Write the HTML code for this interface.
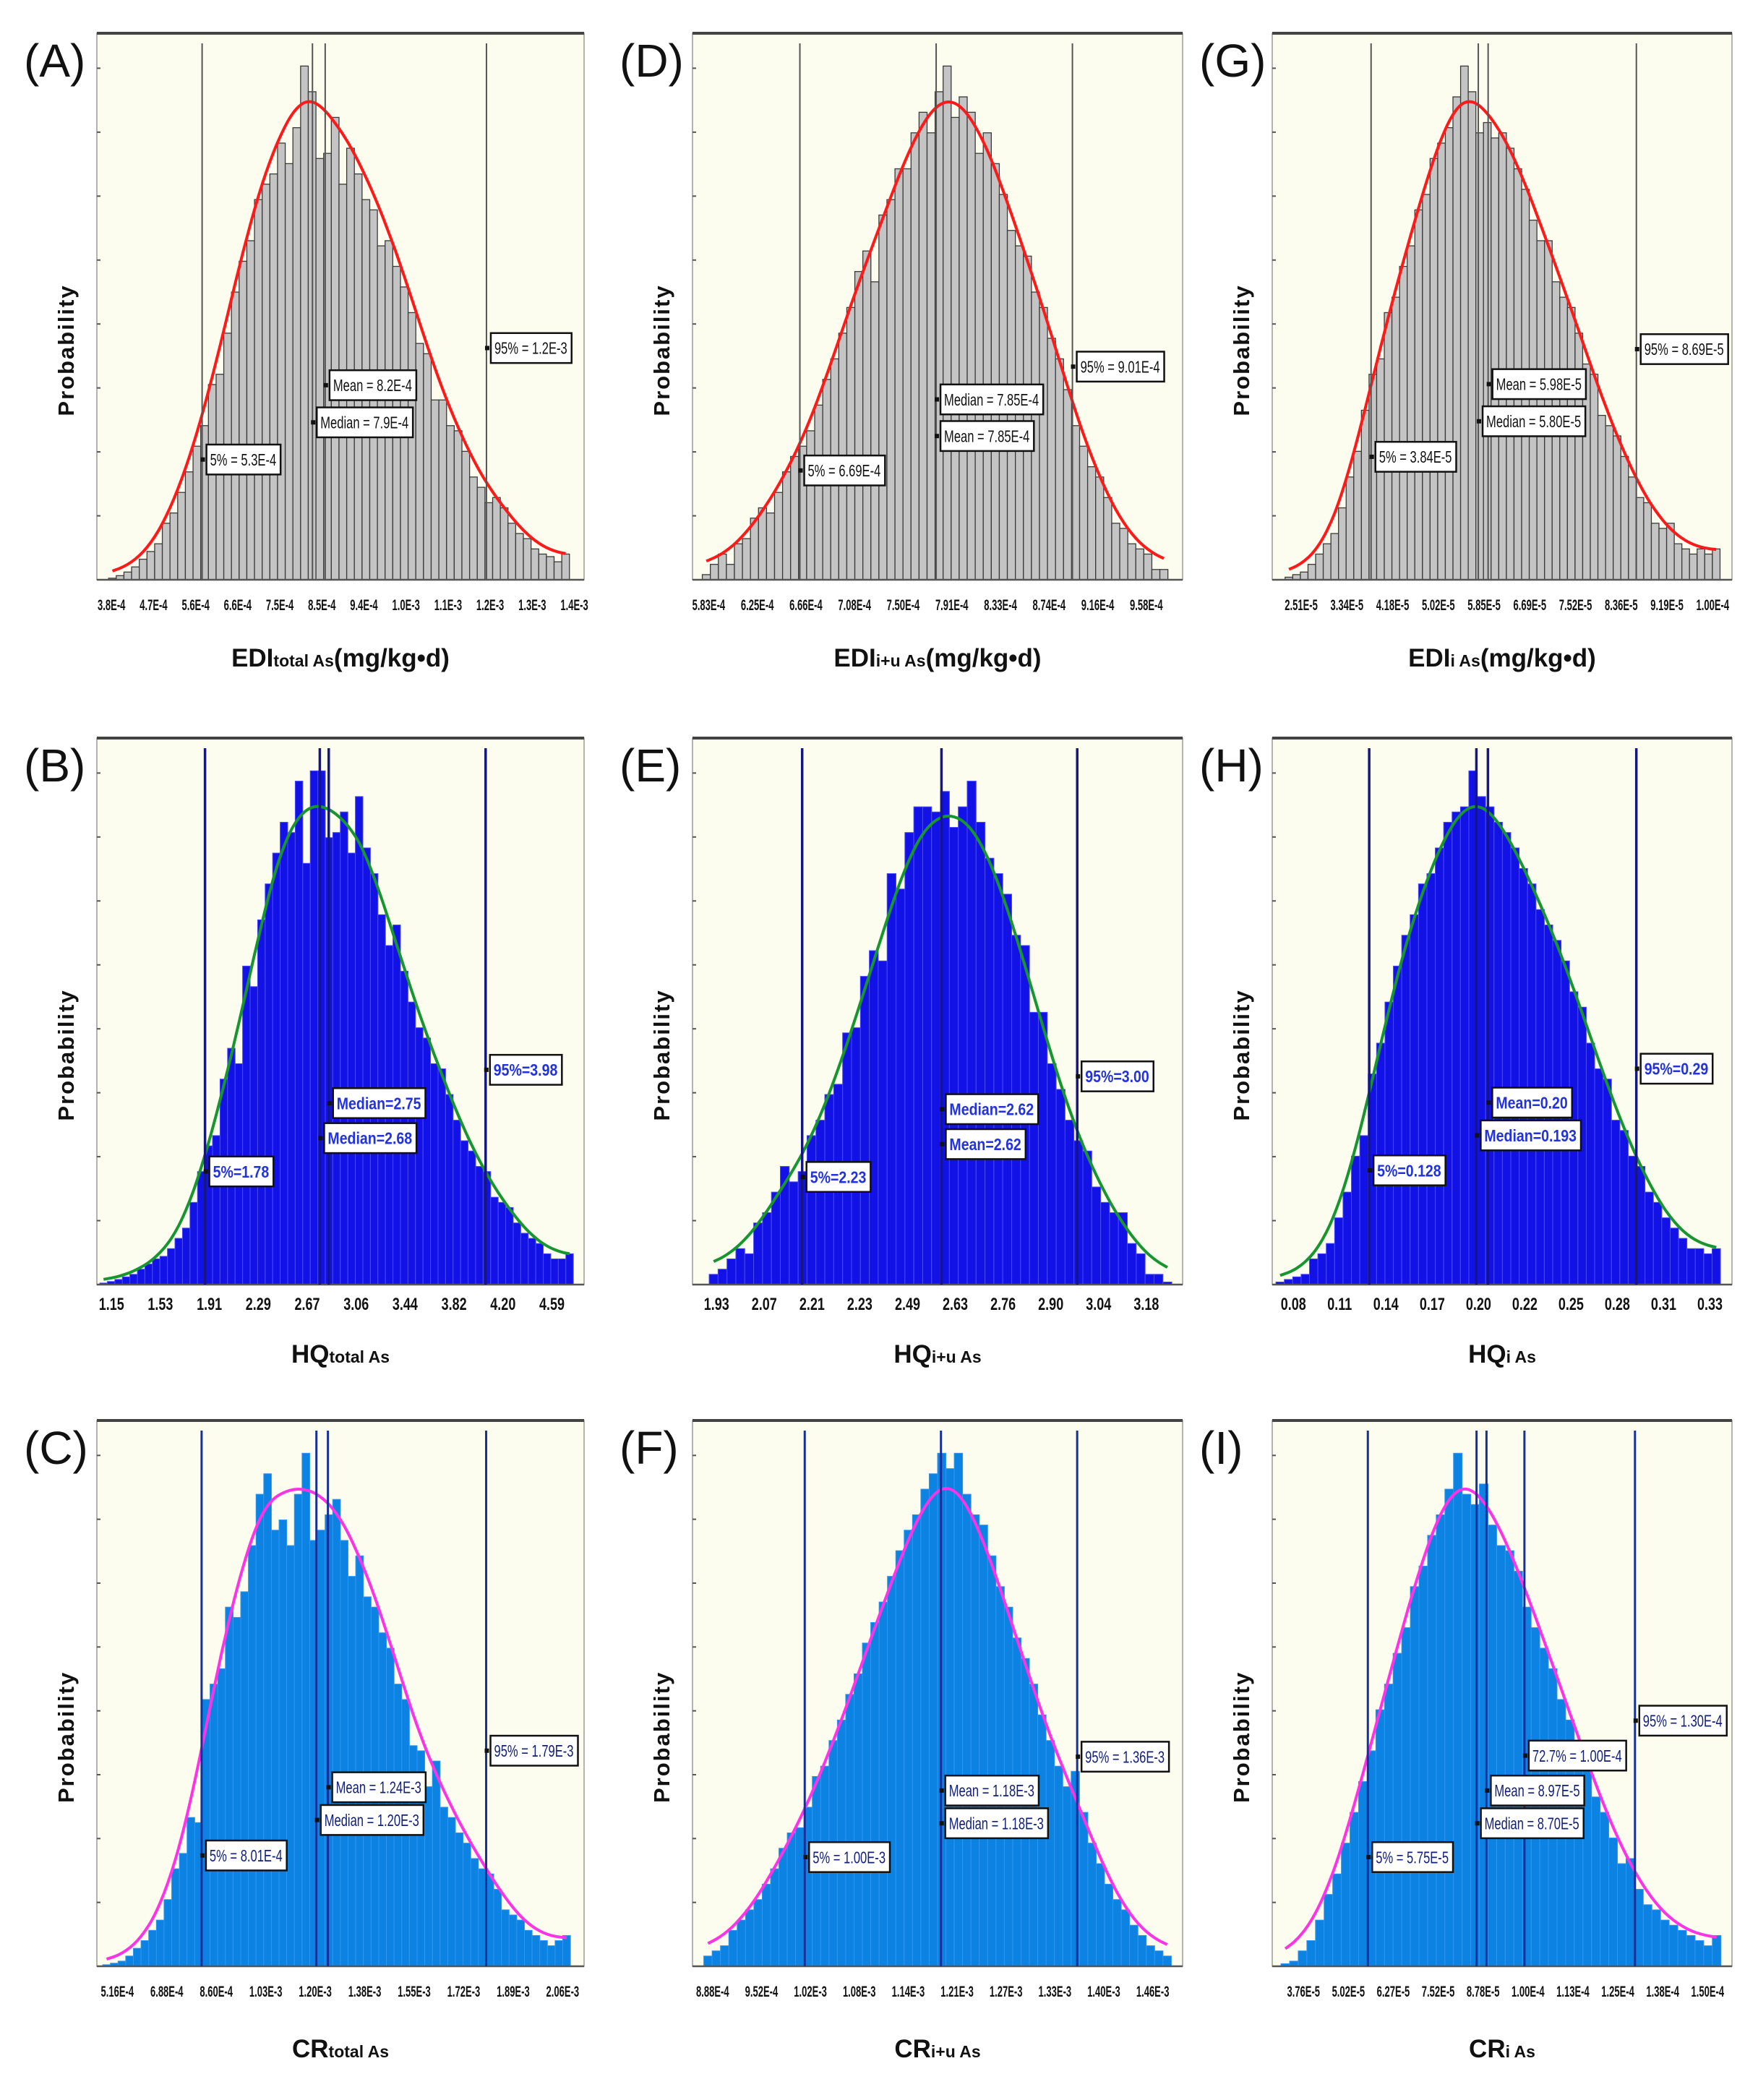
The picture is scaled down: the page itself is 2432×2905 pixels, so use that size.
<!DOCTYPE html>
<html><head><meta charset="utf-8"><style>
html,body{margin:0;padding:0;background:#fff;}
svg{display:block;font-family:"Liberation Sans",sans-serif;}
</style></head><body>
<svg id="fig" width="2432" height="2905" viewBox="0 0 2432 2905" xmlns="http://www.w3.org/2000/svg"></svg>
<script>
// ---------- data ----------
const barsA=[0.003,0.008,0.015,0.025,0.04,0.055,0.07,0.11,0.13,0.17,0.21,0.26,0.30,0.38,0.40,0.48,0.56,0.62,0.66,0.74,0.77,0.79,0.85,0.81,0.88,1.0,0.95,0.82,0.83,0.90,0.77,0.84,0.79,0.74,0.72,0.65,0.66,0.61,0.57,0.52,0.46,0.44,0.35,0.35,0.30,0.29,0.25,0.20,0.18,0.15,0.16,0.14,0.11,0.09,0.08,0.06,0.05,0.045,0.035,0.05];
const barsD=[0.01,0.03,0.05,0.03,0.07,0.08,0.12,0.14,0.13,0.17,0.21,0.24,0.26,0.29,0.34,0.39,0.43,0.48,0.53,0.60,0.64,0.58,0.71,0.74,0.80,0.80,0.87,0.91,0.87,0.95,1.0,0.90,0.94,0.91,0.83,0.87,0.81,0.75,0.68,0.65,0.63,0.56,0.53,0.47,0.43,0.37,0.30,0.26,0.22,0.20,0.16,0.11,0.10,0.07,0.06,0.05,0.02,0.02];
const barsG=[0.005,0.01,0.015,0.03,0.05,0.07,0.09,0.14,0.20,0.25,0.33,0.40,0.43,0.52,0.55,0.61,0.65,0.72,0.75,0.82,0.85,0.88,0.94,1.0,0.95,0.87,0.89,0.86,0.87,0.84,0.80,0.76,0.70,0.66,0.66,0.58,0.55,0.53,0.48,0.42,0.40,0.32,0.30,0.28,0.24,0.20,0.16,0.15,0.11,0.10,0.11,0.07,0.06,0.05,0.06,0.05,0.06];
const barsB=[0.003,0.006,0.01,0.015,0.02,0.03,0.04,0.05,0.055,0.07,0.09,0.11,0.16,0.22,0.27,0.29,0.40,0.46,0.43,0.62,0.58,0.71,0.78,0.84,0.90,0.88,0.98,0.82,1.0,1.0,0.87,0.88,0.92,0.84,0.95,0.85,0.80,0.72,0.66,0.70,0.61,0.55,0.50,0.48,0.43,0.42,0.37,0.32,0.28,0.26,0.23,0.22,0.17,0.16,0.15,0.12,0.10,0.09,0.08,0.06,0.05,0.05,0.06];
const barsE=[0.02,0.03,0.05,0.07,0.06,0.12,0.14,0.18,0.23,0.20,0.22,0.29,0.32,0.37,0.39,0.49,0.50,0.60,0.65,0.63,0.80,0.77,0.88,0.93,0.93,0.92,0.96,0.89,0.93,0.98,0.90,0.83,0.80,0.76,0.68,0.66,0.53,0.53,0.43,0.38,0.32,0.28,0.26,0.19,0.16,0.14,0.14,0.08,0.06,0.02,0.02,0.005];
const barsH=[0.005,0.01,0.015,0.02,0.05,0.06,0.08,0.13,0.18,0.25,0.29,0.41,0.47,0.55,0.62,0.68,0.72,0.78,0.80,0.85,0.90,0.92,0.93,1.0,0.95,0.93,0.90,0.88,0.85,0.81,0.78,0.73,0.70,0.67,0.63,0.57,0.54,0.47,0.42,0.40,0.32,0.30,0.25,0.23,0.18,0.16,0.13,0.11,0.09,0.07,0.07,0.06,0.07];
const barsC=[0.003,0.006,0.01,0.02,0.035,0.05,0.07,0.09,0.13,0.19,0.22,0.29,0.28,0.52,0.55,0.58,0.70,0.68,0.73,0.82,0.92,0.96,0.85,0.87,0.82,0.92,1.0,0.83,0.85,0.88,0.91,0.83,0.76,0.80,0.72,0.70,0.65,0.62,0.55,0.52,0.43,0.42,0.35,0.40,0.31,0.29,0.26,0.24,0.21,0.19,0.18,0.15,0.11,0.10,0.09,0.07,0.06,0.05,0.04,0.05,0.06];
const barsF=[0.02,0.03,0.04,0.07,0.09,0.11,0.13,0.16,0.19,0.23,0.26,0.27,0.31,0.37,0.39,0.44,0.48,0.53,0.57,0.63,0.67,0.71,0.76,0.81,0.85,0.88,0.93,0.96,1.0,0.97,1.0,0.92,0.88,0.86,0.80,0.74,0.70,0.64,0.60,0.55,0.49,0.44,0.39,0.35,0.38,0.30,0.24,0.20,0.16,0.13,0.11,0.08,0.06,0.04,0.03,0.02];
const barsI=[0.005,0.01,0.03,0.05,0.09,0.14,0.18,0.24,0.30,0.36,0.42,0.50,0.55,0.61,0.66,0.74,0.78,0.84,0.88,0.93,1.0,0.92,0.90,0.94,0.86,0.82,0.81,0.77,0.70,0.66,0.62,0.58,0.52,0.48,0.43,0.40,0.33,0.30,0.25,0.20,0.21,0.15,0.12,0.11,0.09,0.08,0.07,0.06,0.05,0.04,0.06];

const ticksA=["3.8E-4","4.7E-4","5.6E-4","6.6E-4","7.5E-4","8.5E-4","9.4E-4","1.0E-3","1.1E-3","1.2E-3","1.3E-3","1.4E-3"];
const ticksD=["5.83E-4","6.25E-4","6.66E-4","7.08E-4","7.50E-4","7.91E-4","8.33E-4","8.74E-4","9.16E-4","9.58E-4"];
const ticksG=["2.51E-5","3.34E-5","4.18E-5","5.02E-5","5.85E-5","6.69E-5","7.52E-5","8.36E-5","9.19E-5","1.00E-4"];
const ticksB=["1.15","1.53","1.91","2.29","2.67","3.06","3.44","3.82","4.20","4.59"];
const ticksE=["1.93","2.07","2.21","2.23","2.49","2.63","2.76","2.90","3.04","3.18"];
const ticksH=["0.08","0.11","0.14","0.17","0.20","0.22","0.25","0.28","0.31","0.33"];
const ticksC=["5.16E-4","6.88E-4","8.60E-4","1.03E-3","1.20E-3","1.38E-3","1.55E-3","1.72E-3","1.89E-3","2.06E-3"];
const ticksF=["8.88E-4","9.52E-4","1.02E-3","1.08E-3","1.14E-3","1.21E-3","1.27E-3","1.33E-3","1.40E-3","1.46E-3"];
const ticksI=["3.76E-5","5.02E-5","6.27E-5","7.52E-5","8.78E-5","1.00E-4","1.13E-4","1.25E-4","1.38E-4","1.50E-4"];

const linesA=[5.3e-4,7.9e-4,8.2e-4,1.2e-3];
const linesD=[6.69e-4,7.85e-4,9.01e-4];
const linesG=[3.84e-5,5.80e-5,5.98e-5,8.69e-5];
const linesB=[1.78,2.68,2.75,3.98];
const linesE=[2.23,2.62,3.00];
const linesH=[0.128,0.193,0.20,0.29];
const linesC=[8.01e-4,1.20e-3,1.24e-3,1.79e-3];
const linesF=[1.00e-3,1.18e-3,1.36e-3];
const linesI=[5.75e-5,8.70e-5,8.97e-5,1.00e-4,1.30e-4];

const notesA=[["5% = 5.3E-4",5.3e-4,0.22],["Mean = 8.2E-4",8.2e-4,0.356],["Median = 7.9E-4",7.9e-4,0.288],["95% = 1.2E-3",1.2e-3,0.424]];
const notesD=[["5% = 6.69E-4",6.69e-4,0.2],["Median = 7.85E-4",7.85e-4,0.33],["Mean = 7.85E-4",7.85e-4,0.263],["95% = 9.01E-4",9.01e-4,0.39]];
const notesG=[["5% = 3.84E-5",3.84e-5,0.225],["Mean = 5.98E-5",5.98e-5,0.358],["Median = 5.80E-5",5.80e-5,0.29],["95% = 8.69E-5",8.69e-5,0.422]];
const notesB=[["5%=1.78",1.78,0.207],["Median=2.75",2.75,0.332],["Median=2.68",2.68,0.268],["95%=3.98",3.98,0.393]];
const notesE=[["5%=2.23",2.23,0.197],["Median=2.62",2.62,0.321],["Mean=2.62",2.62,0.257],["95%=3.00",3.00,0.381]];
const notesH=[["5%=0.128",0.128,0.209],["Mean=0.20",0.20,0.333],["Median=0.193",0.193,0.273],["95%=0.29",0.29,0.395]];
const notesC=[["5% = 8.01E-4",8.01e-4,0.203],["Mean = 1.24E-3",1.24e-3,0.328],["Median = 1.20E-3",1.20e-3,0.268],["95% = 1.79E-3",1.79e-3,0.395]];
const notesF=[["5% = 1.00E-3",1.00e-3,0.2],["Mean = 1.18E-3",1.18e-3,0.322],["Median = 1.18E-3",1.18e-3,0.262],["95% = 1.36E-3",1.36e-3,0.384]];
const notesI=[["5% = 5.75E-5",5.75e-5,0.2],["Median = 8.70E-5",8.70e-5,0.262],["Mean = 8.97E-5",8.97e-5,0.322],["72.7% = 1.00E-4",1.00e-4,0.386],["95% = 1.30E-4",1.30e-4,0.45]];

// ---------- layout ----------
const NS="http://www.w3.org/2000/svg";
const svg=document.getElementById('fig');
const cols=[[134,674],[958,678],[1760,636]];
const rows=[[46,756],[1021,756],[1965,755]];
const styles=[
 {bar:"#c4c4c4",stroke:"#3a3a3a",curve:"#ff1a1a",vline:"#555555",vw:2,nt:"#111",nb:false,ns:23,sub:"(mg/kg•d)"},
 {bar:"#1212e6",stroke:"#4a4aff",curve:"#17952e",vline:"#161680",vw:3.5,nt:"#2233dd",nb:true,ns:23,sub:""},
 {bar:"#0c82e2",stroke:"#2e96f2",curve:"#ff33e6",vline:"#16309a",vw:3,nt:"#12207a",nb:false,ns:23,sub:""}
];
const panels=[
 {id:"A",c:0,r:0,bars:barsA,ticks:ticksA,lines:linesA,notes:notesA,b:[.024,.97],t:[.03,.98],d:[2.82e-4,1.43e-3],pre:"EDI",sub:"total As"},
 {id:"D",c:1,r:0,bars:barsD,ticks:ticksD,lines:linesD,notes:notesD,b:[.02,.97],t:[.033,.926],d:[5.776e-4,9.948e-4],pre:"EDI",sub:"i+u As"},
 {id:"G",c:2,r:0,bars:barsG,ticks:ticksG,lines:linesG,notes:notesG,b:[.028,.974],t:[.063,.958],d:[2.033e-5,1.0438e-4],pre:"EDI",sub:"i As"},
 {id:"B",c:0,r:1,bars:barsB,ticks:ticksB,lines:linesB,notes:notesB,b:[.006,.978],t:[.03,.934],d:[0.932,4.752],pre:"HQ",sub:"total As"},
 {id:"E",c:1,r:1,bars:barsE,ticks:ticksE,lines:linesE,notes:notesE,b:[.034,.978],t:[.049,.926],d:[1.923,3.295],pre:"HQ",sub:"i+u As"},
 {id:"H",c:2,r:1,bars:barsH,ticks:ticksH,lines:linesH,notes:notesH,b:[.008,.975],t:[.046,.952],d:[0.0692,0.348],pre:"HQ",sub:"i As"},
 {id:"C",c:0,r:2,bars:barsC,ticks:ticksC,lines:linesC,notes:notesC,b:[.012,.972],t:[.042,.956],d:[4.369e-4,2.1304e-3],pre:"CR",sub:"total As"},
 {id:"F",c:1,r:2,bars:barsF,ticks:ticksF,lines:linesF,notes:notesF,b:[.023,.977],t:[.041,.939],d:[8.517e-4,1.4993e-3],pre:"CR",sub:"i+u As"},
 {id:"I",c:2,r:2,bars:barsI,ticks:ticksI,lines:linesI,notes:notesI,b:[.019,.976],t:[.068,.947],d:[3.155e-5,1.5633e-4],pre:"CR",sub:"i As"}
];
function el(tag,attrs,parent){const e=document.createElementNS(NS,tag);for(const k in attrs)e.setAttribute(k,attrs[k]);(parent||svg).appendChild(e);return e;}

panels.forEach(p=>{
 const st=styles[p.r];
 const X=cols[p.c][0],W=cols[p.c][1],Y=rows[p.r][0],H=rows[p.r][1],B=Y+H;
 const g=el('g',{});
 
 
 const xv=v=>X+W*(v-p.d[0])/(p.d[1]-p.d[0]);
 const yv=v=>B-v*0.94*H;
 const bg=el('rect',{x:X,y:Y,width:W,height:H,fill:"#fdfdef",stroke:"#9a9a9a","stroke-width":1.5},g);
 
 
 el('line',{x1:X,y1:Y,x2:X+W,y2:Y,stroke:"#444","stroke-width":4},g);
 for(let i=1;i<=8;i++){el('line',{x1:X,x2:X+5,y1:B-i*H*0.117,y2:B-i*H*0.117,stroke:"#555","stroke-width":2},g);}
 const n=p.bars.length,bx0=X+W*p.b[0],bw=W*(p.b[1]-p.b[0])/n;
 p.bars.forEach((v,i)=>{
   const r=el('rect',{x:bx0+i*bw,y:yv(v),width:bw,height:B-yv(v),fill:st.bar,stroke:st.stroke,"stroke-width":p.r==0?1.3:1},g);
   
   
 });
 el('line',{x1:X,y1:B,x2:X+W,y2:B,stroke:"#555","stroke-width":2.5},g);
 // fitted curve: wide gaussian smoothing of bars
 const R=6,sig=2.6;
 const sm=p.bars.map((v,i)=>{let s=0,c=0;for(let k=-R;k<=R;k++){const j=i+k;if(j>=0&&j<n){const w=Math.exp(-k*k/(2*sig*sig));s+=p.bars[j]*w;c+=w;}}return s/c;});
 const mx=Math.max(...sm),mb=Math.max(...p.bars);
 const pts=sm.map((v,i)=>[bx0+(i+0.5)*bw,yv(v*(0.93*mb/mx))]);
 let d="M"+pts[0][0]+","+pts[0][1];
 for(let i=0;i<pts.length-1;i++){const p0=pts[Math.max(0,i-1)],p1=pts[i],p2=pts[i+1],p3=pts[Math.min(pts.length-1,i+2)];
  d+=" C"+(p1[0]+(p2[0]-p0[0])/6)+","+(p1[1]+(p2[1]-p0[1])/6)+" "+(p2[0]-(p3[0]-p1[0])/6)+","+(p2[1]-(p3[1]-p1[1])/6)+" "+p2[0]+","+p2[1];}
 const cv=el('path',{d:d,fill:"none",stroke:st.curve,"stroke-width":4},g);
 
 
 p.lines.forEach(v=>{
  const l=el('line',{x1:xv(v),x2:xv(v),y1:Y+14,y2:B,stroke:st.vline,"stroke-width":st.vw},g);
  
  
 });
 p.notes.forEach(a=>{
  const lx=xv(a[1]),cy=B-a[2]*H;
  const ng=el('g',{},g);
  
  
  const sx=st.nb?0.85:0.72;
  const t=el('text',{x:0,y:0,"font-size":st.ns,"font-weight":st.nb?"bold":"normal",fill:st.nt,transform:"translate("+(lx+11)+","+(cy+st.ns*0.36)+") scale("+sx+",1)"},ng);
  t.textContent=a[0];
  const tw=t.getComputedTextLength()*sx;
  const rr=el('rect',{x:lx+6,y:cy-st.ns*0.9,width:tw+11,height:st.ns*1.8,fill:"#fff",stroke:"#111","stroke-width":2.5},ng);
  ng.insertBefore(rr,t);
  el('rect',{x:lx-2,y:cy-3,width:6,height:6,fill:"#111"},ng);
 });
 const nt=p.ticks.length,tx0=X+W*p.t[0],tx1=X+W*p.t[1];
 p.ticks.forEach((s,i)=>{
  const tx=tx0+(tx1-tx0)*i/(nt-1);
  const fs=p.r==1?24:21,sx=p.r==1?0.75:0.62;
  const t=el('text',{x:0,y:0,"font-size":fs,"font-weight":"bold",fill:"#111","text-anchor":"middle",transform:"translate("+tx+","+(B+(p.r==1?35:42))+") scale("+sx+",1)"},g);
  t.textContent=s;
  
  
 });
 const ty=B+(p.r==0?120:(p.r==1?108:126));
 const tt=el('text',{x:X+W/2,y:ty,"text-anchor":"middle","font-weight":"bold","font-size":35,fill:"#111"},g);
 
 
 const s1=el('tspan',{},tt);s1.textContent=p.pre;
 const s2=el('tspan',{"font-size":23},tt);s2.textContent=p.sub;
 if(st.sub){const s3=el('tspan',{},tt);s3.textContent=st.sub;}
 const yx=X-32,yy=Y+H*0.58;
 const yt=el('text',{x:yx,y:yy,"text-anchor":"middle","font-weight":"bold","font-size":31,"letter-spacing":2,fill:"#111",transform:"rotate(-90 "+yx+" "+yy+")"},g);
 yt.textContent="Probability";
 
 
 const pl=el('text',{x:X-101,y:Y+60,"font-size":64,fill:"#111"},g);
 pl.textContent="("+p.id+")";
 
 
});
</script>
</body></html>
